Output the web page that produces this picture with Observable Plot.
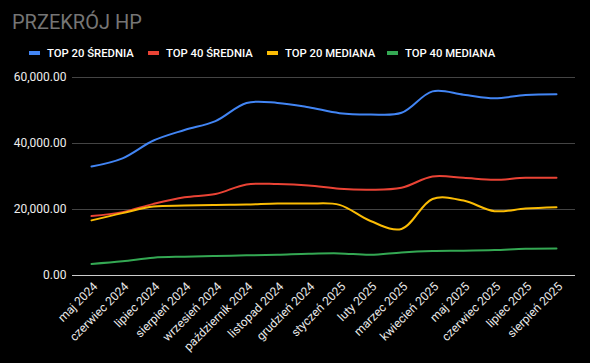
<!DOCTYPE html>
<html><head><meta charset="utf-8">
<script src="https://cdn.jsdelivr.net/npm/d3@7"></script>
<script src="https://cdn.jsdelivr.net/npm/@observablehq/plot@0.6"></script>
<style>
body{margin:0;background:#000;width:590px;height:363px;overflow:hidden;font-family:Roboto,sans-serif;position:relative}
#title{position:absolute;left:12px;top:10px;font-size:20px;color:#757575;line-height:24px;white-space:nowrap}
.item{position:absolute;top:46px;font-size:11.3px;font-weight:500;color:#fff;line-height:16px;white-space:nowrap}
.sw{display:inline-block;width:11px;height:4px;vertical-align:middle;margin-right:7px;position:relative;top:-1px}
#chart{position:absolute;top:65px;left:0}
</style></head>
<body>
<div id="title">PRZEKRÓJ HP</div>
<div id="legend"></div>
<div id="chart"></div>
<script>
const months = ["maj 2024","czerwiec 2024","lipiec 2024","sierpień 2024","wrzesień 2024","październik 2024","listopad 2024","grudzień 2024","styczeń 2025","luty 2025","marzec 2025","kwiecień 2025","maj 2025","czerwiec 2025","lipiec 2025","sierpień 2025"];
const seriesNames = ["TOP 20 ŚREDNIA","TOP 40 ŚREDNIA","TOP 20 MEDIANA","TOP 40 MEDIANA"];
const seriesColors = ["#4285F4","#EA4335","#FBBC04","#34A853"];
const top20Srednia = [33000,35500,40900,44100,46800,52300,52300,51000,49200,48800,49300,55800,54800,53700,54700,54900];
const top40Srednia = [18000,19200,21700,23700,24700,27600,27700,27300,26300,26000,26600,30000,29600,29000,29600,29600];
const top20Mediana = [16700,18900,20900,21200,21400,21500,21800,21800,21400,16500,14100,23200,22700,19500,20300,20700];
const top40Mediana = [3500,4300,5400,5700,5900,6100,6300,6600,6700,6300,7000,7400,7500,7700,8100,8200];
const yTicks = [0,20000,40000,60000];

const allSeries = [top20Srednia, top40Srednia, top20Mediana, top40Mediana];
const data = allSeries.flatMap((vals, i) => vals.map((v, j) => ({series: seriesNames[i], month: months[j], value: v})));

const legendLefts = [29,148,267,387];
const legend = document.getElementById("legend");
seriesNames.forEach((s, i) => {
  const d = document.createElement("div");
  d.className = "item";
  d.style.left = legendLefts[i] + "px";
  d.innerHTML = `<span class="sw" style="background:${seriesColors[i]}"></span>${s}`;
  legend.appendChild(d);
});

const chart = Plot.plot({
  width: 590, height: 298,
  marginTop: 12, marginBottom: 88, marginLeft: 72, marginRight: 15,
  style: {background: "#000", color: "#fff", fontFamily: "Roboto, sans-serif", fontSize: "12px"},
  x: {type: "point", domain: months, padding: 0.5, label: null},
  y: {domain: [0, 60000], label: null},
  color: {domain: seriesNames, range: seriesColors},
  marks: [
    Plot.ruleY(yTicks.slice(1), {stroke: "#444"}),
    Plot.ruleY([0], {stroke: "#ccc"}),
    Plot.axisY({ticks: yTicks, tickFormat: d3.format(",.2f"), tickSize: 0, tickPadding: 6, label: null, fill: "#eee"}),
    Plot.axisX({tickRotate: -45, tickSize: 0, tickPadding: 6, dx: 4, dy: 3, label: null, fill: "#e8e8e8"}),
    Plot.lineY(data, {x: "month", y: "value", stroke: "series", curve: "catmull-rom", strokeWidth: 2})
  ]
});
document.getElementById("chart").appendChild(chart);
</script>
</body></html>
